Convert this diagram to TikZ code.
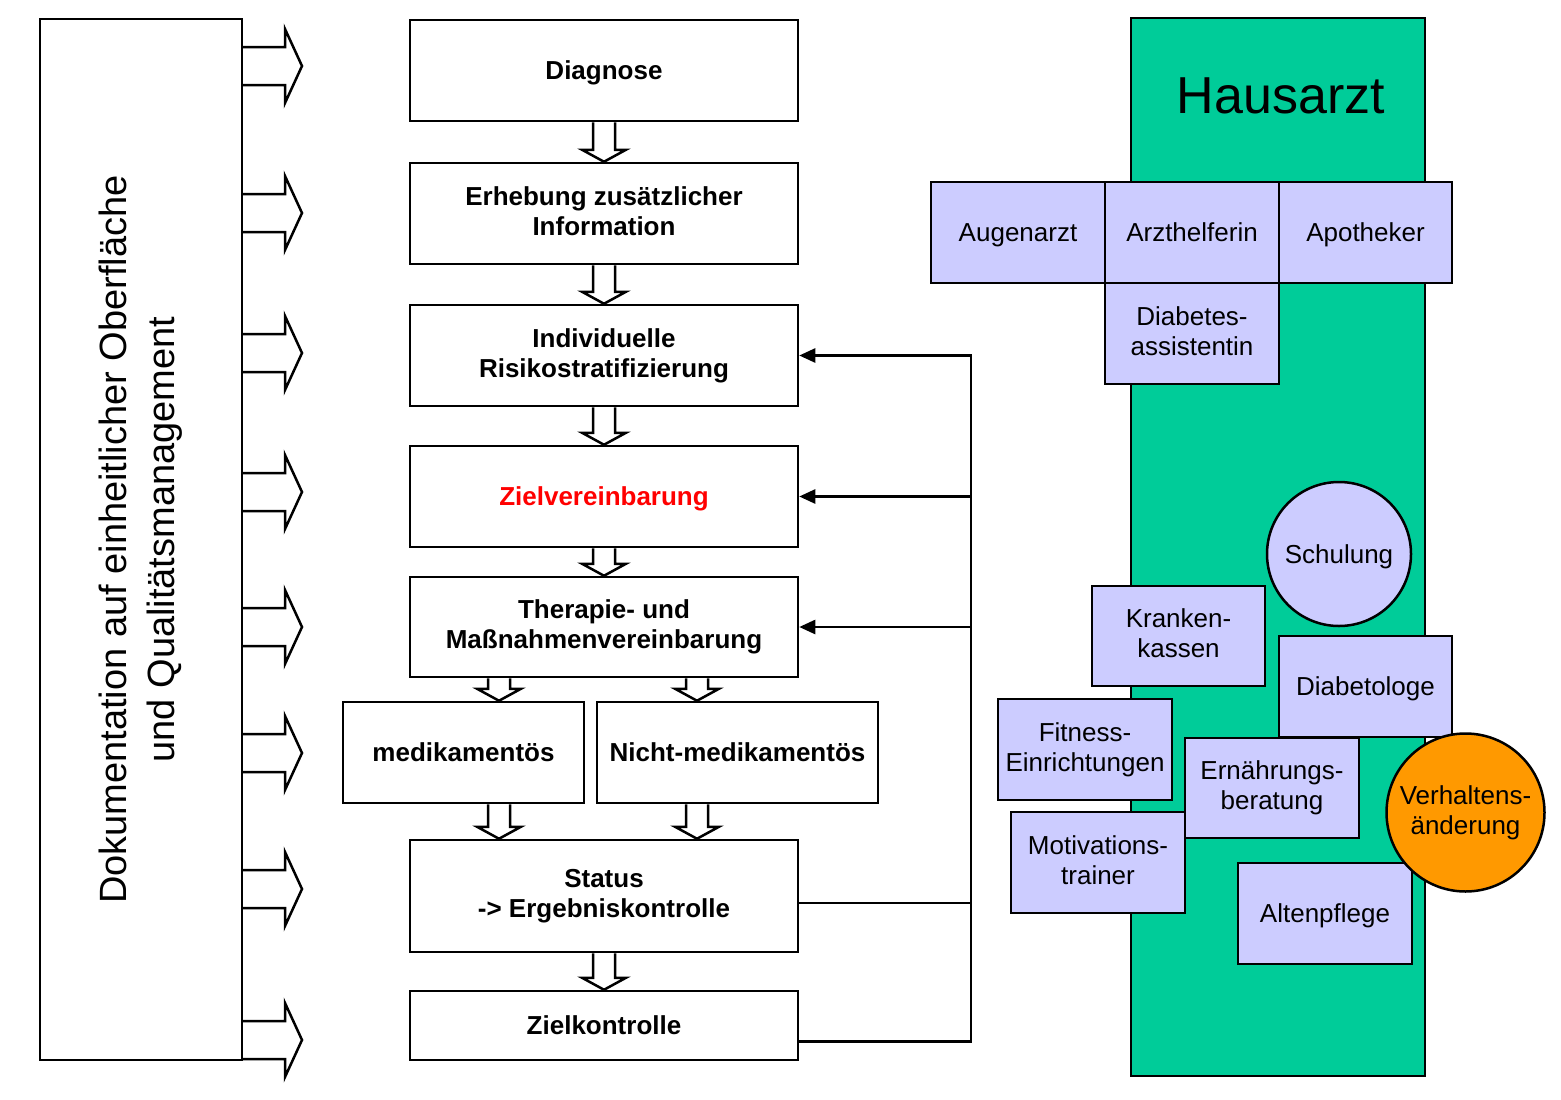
\documentclass[tikz,border=0pt]{standalone}
\usepackage{fontspec}
\setmainfont{Liberation Sans}
\usetikzlibrary{arrows.meta,calc}

\definecolor{hausgreen}{RGB}{0,204,153}
\definecolor{lavender}{RGB}{204,204,255}
\definecolor{verhorange}{RGB}{255,153,0}

% line strut, so that one-line and two-line texts sit alike
\newcommand{\linestrut}{\rule[-5.6pt]{0pt}{30pt}}

% hollow down arrow: x from #1, top at #1, tip at y of #2
\newcommand{\hollowdown}[2]{%
  \draw[hollow] let \p1 = (#1), \p2 = (#2) in
    (\x1-11pt,\y1) -- (\x1-11pt,\y2+12pt) -- (\x1-22pt,\y2+12pt) -- (\x1,\y2)
    -- (\x1+22pt,\y2+12pt) -- (\x1+11pt,\y2+12pt) -- (\x1+11pt,\y1);
}

\begin{document}
\begin{tikzpicture}[
  x = 1pt, y = -1pt,
  block/.style = {rectangle, draw, line width = 2.5pt, minimum width = 388pt, minimum height = 101pt,
                  inner sep = 0pt, align = center, font = \bfseries\fontsize{26}{30}\selectfont,
                  execute at begin node = \linestrut, execute at end node = \linestrut},
  partner/.style = {rectangle, draw, fill = lavender, line width = 2.5pt, minimum width = 174pt,
                    minimum height = 101pt, inner sep = 0pt, align = center, font = \fontsize{26}{30}\selectfont,
                    execute at begin node = \linestrut, execute at end node = \linestrut},
  bubble/.style = {circle, draw, line width = 2.5pt, inner sep = 0pt, align = center,
                   font = \fontsize{26}{30}\selectfont,
                   execute at begin node = \linestrut, execute at end node = \linestrut},
  hollow/.style = {draw, line width = 2.5pt, fill = white, line join = miter},
  feedback/.style = {draw, line width = 2.5pt, -{Triangle[length = 16pt, width = 14pt]}}
]
  \useasboundingbox (0,0) rectangle (1561,1100);

  % left: documentation
  \node[draw, line width = 2.5pt, minimum width = 202pt, minimum height = 1041pt] (doc) at (141, 539.5) {};
  \node[rotate = 90, align = center, font = \fontsize{38}{48}\selectfont] (doctext) at (doc.center)
    {Dokumentation auf einheitlicher Oberfläche\\und Qualitätsmanagement};
  \foreach \y in {66, 213, 353, 492, 627, 753, 889, 1040}
    \draw[hollow, fill = none] (242,\y-19) -- (285,\y-19) -- (285,\y-37) -- (302,\y)
                  -- (285,\y+37) -- (285,\y+19) -- (242,\y+19);

  % middle: process
  \node[block]                                      (diag)      at (604,   70.5)  {Diagnose};
  \node[block]                                      (erheb)     at (604,   213.5) {Erhebung zusätzlicher\\Information};
  \node[block]                                      (risiko)    at (604,   355.5) {Individuelle\\Risikostratifizierung};
  \node[block, text = red]                          (zielv)     at (604,   496.5) {Zielvereinbarung};
  \node[block, minimum height = 100pt]              (thera)     at (604,   627)   {Therapie- und\\Maßnahmenvereinbarung};
  \node[block, minimum width = 241pt]               (medi)      at (463.5, 752.5) {medikamentös};
  \node[block, minimum width = 281pt]               (nichtmedi) at (737.5, 752.5) {Nicht-medikamentös};
  \node[block, minimum height = 112pt]              (status)    at (604,   896)   {Status\\-> Ergebniskontrolle};
  \node[block, minimum height = 69pt]               (zielk)     at (604,   1025.5) {Zielkontrolle};

  \hollowdown{diag.south}{erheb.north}
  \hollowdown{erheb.south}{risiko.north}
  \hollowdown{risiko.south}{zielv.north}
  \hollowdown{zielv.south}{thera.north}
  \hollowdown{$(thera.south)+(-105,0)$}{medi.north}
  \hollowdown{$(thera.south)+(93,0)$}{nichtmedi.north}
  \hollowdown{$(medi.south)+(35.5,0)$}{status.north}
  \hollowdown{$(nichtmedi.south)+(-40.5,0)$}{status.north}
  \hollowdown{status.south}{zielk.north}

  % feedback loop
  \coordinate (bus) at (971, 0);
  \draw[feedback] ([yshift = -16pt]zielk.east) -| (bus |- risiko.east) -- (risiko.east);
  \draw[line width = 2.5pt] ([yshift = -7pt]status.east) -- ([yshift = -7pt]status.east -| bus);
  \draw[feedback] (bus |- zielv.east) -- (zielv.east);
  \draw[feedback] (bus |- thera.east) -- (thera.east);

  % right: Hausarzt and partners
  \node[draw, fill = hausgreen, line width = 2.5pt, minimum width = 294pt, minimum height = 1058pt] (bar) at (1278, 547) {};
  \node[font = \fontsize{52}{60}\selectfont] (hausarzt) at (1281, 96) {Hausarzt};

  \node[partner]                         (augen)     at (1018,   232.5) {Augenarzt};
  \node[partner]                         (arzth)     at (1192,   232.5) {Arzthelferin};
  \node[partner, minimum width = 173pt]  (apoth)     at (1365.5, 232.5) {Apotheker};
  \node[partner]                         (diabass)   at (1192,   333.5) {Diabetes-\\assistentin};
  \node[bubble, fill = lavender, minimum size = 144pt] (schulung) at (1339, 554) {Schulung};
  \node[partner, minimum width = 173pt, minimum height = 100pt] (kranken) at (1178.5, 636) {Kranken-\\kassen};
  \node[partner, minimum width = 173pt]  (diabetol)  at (1365.5, 686.5) {Diabetologe};
  \node[partner]                         (fitness)   at (1085,   749.5) {Fitness-\\Einrichtungen};
  \node[partner, minimum height = 100pt] (ernaehr)   at (1272,   788)   {Ernährungs-\\beratung};
  \node[partner]                         (motiv)     at (1098,   862.5) {Motivations-\\trainer};
  \node[partner]                         (alten)     at (1325,   913.5) {Altenpflege};
  \node[bubble, fill = verhorange, minimum size = 158pt] (verhalten) at (1465.5, 812.5) {Verhaltens-\\änderung};
\end{tikzpicture}
\end{document}
